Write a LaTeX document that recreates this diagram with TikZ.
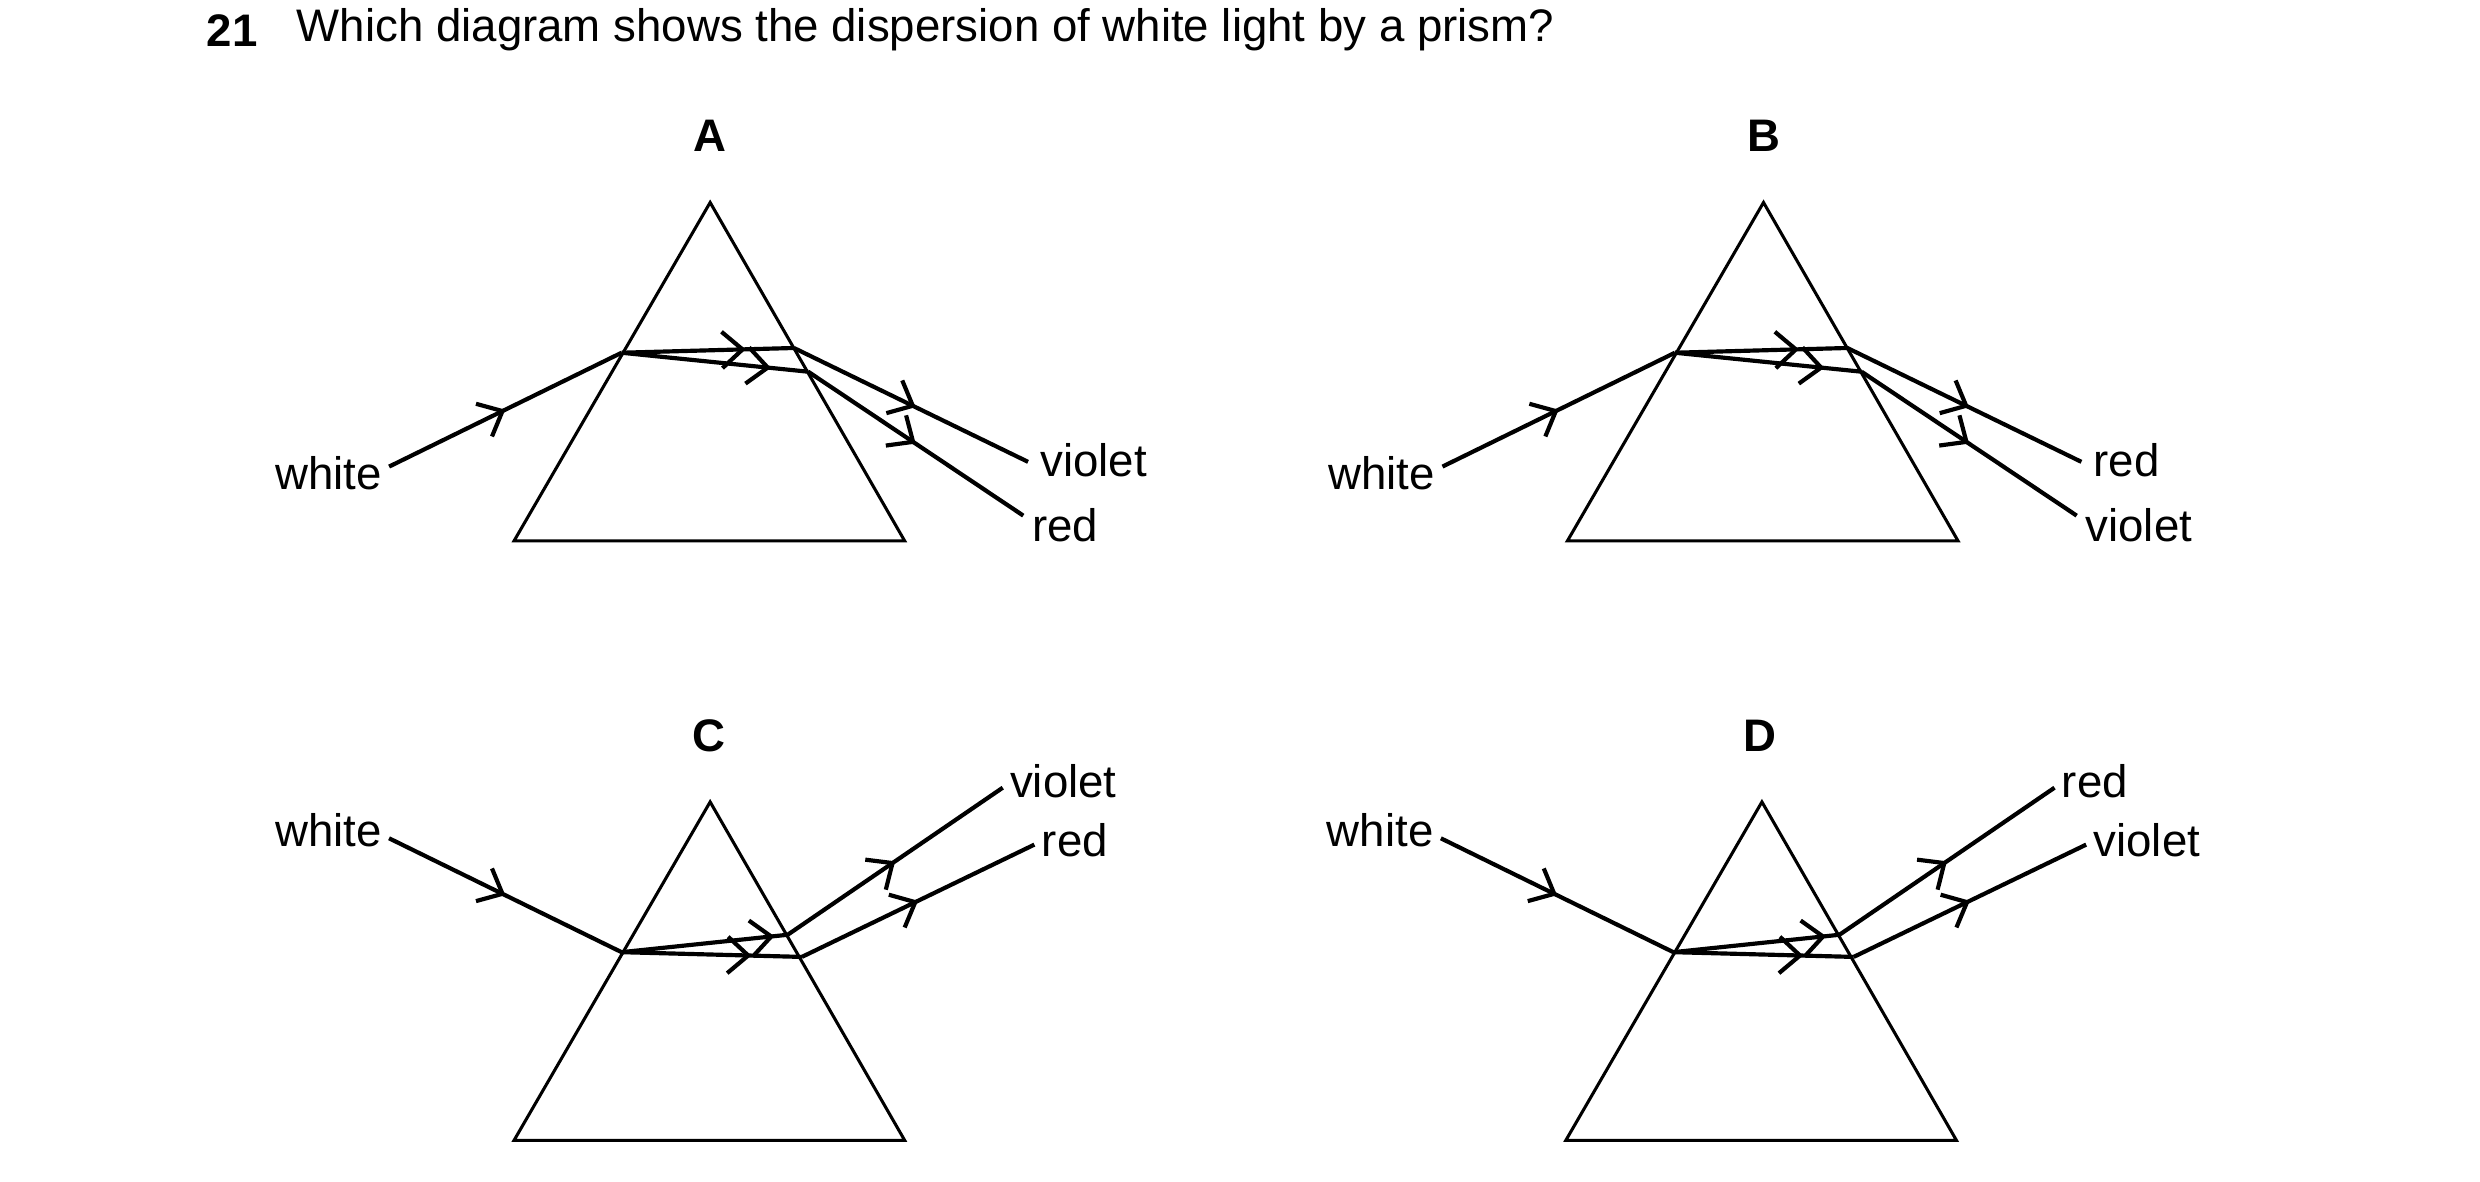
\documentclass[tikz,border=0pt]{standalone}
\usepackage{fontspec}
\setmainfont{Liberation Sans}
\usetikzlibrary{positioning, arrows.meta, decorations.markings}
\tikzset{
    ray/.style={line width=0.75pt},
    mid/.style={postaction={decorate},
        decoration={markings, mark=at position #1 with {\arrow{Straight Barb[length=1.3mm,width=2.3mm,line width=0.75pt]}}}},
    lbl/.style={font=\fontsize{8.2}{10}\selectfont, inner sep=0pt},
    ttl/.style={font=\fontsize{8.2}{10}\selectfont\bfseries, inner sep=0pt}
}
% prism with apex at (449,\ap)
\def\prism#1{%
    \draw[line width=0.55pt] (449,#1) -- (325,#1+214) -- (572,#1+214) -- cycle;
}
\begin{document}
\begin{tikzpicture}[x=0.01cm, y=-0.01cm]
    \useasboundingbox (0,0) rectangle (1568,747);

    \node[ttl, anchor=west] (num) at (130,19) {21};
    \node[lbl, anchor=west] (question) at (187,19) {Which diagram shows the dispersion of white light by a prism?};

    % upper row: A and B
    \foreach \dx/\nm/\upper/\lower in {0/A/violet/red, 666/B/red/violet}
    {
        \begin{scope}[xshift=\dx*0.01cm]
            \node[ttl] (title\nm) at (449,86) {\nm};
            \prism{128}
            \coordinate (in\nm) at (246,295);
            \coordinate (hit\nm) at (393,223);
            \coordinate (outU\nm) at (502,220);
            \coordinate (outL\nm) at (511,235);
            \coordinate (endU\nm) at (650,292);
            \coordinate (endL\nm) at (647,326);
            \draw[ray, mid=0.5] (in\nm) -- (hit\nm);
            \draw[ray, mid=0.72] (hit\nm) -- (outU\nm);
            \draw[ray, mid=0.8] (hit\nm) -- (outL\nm);
            \draw[ray, mid=0.52] (outU\nm) -- (endU\nm);
            \draw[ray, mid=0.5] (outL\nm) -- (endL\nm);
            \node[lbl, anchor=east] (white\nm) at (242,299) {white};
            \node[lbl, anchor=west] (labU\nm) at (657,291) {\upper};
            \node[lbl, anchor=west] (labL\nm) at (652,332) {\lower};
        \end{scope}
    }

    % lower row: C and D
    \foreach \dx/\nm/\upper/\lower in {0/C/violet/red, 665/D/red/violet}
    {
        \begin{scope}[xshift=\dx*0.01cm]
            \node[ttl] (title\nm) at (448,465) {\nm};
            \prism{507}
            \coordinate (in\nm) at (246,530);
            \coordinate (hit\nm) at (393,602);
            \coordinate (outU\nm) at (498,591);
            \coordinate (outL\nm) at (507,605);
            \coordinate (endU\nm) at (634,498);
            \coordinate (endL\nm) at (654,534);
            \draw[ray, mid=0.5] (in\nm) -- (hit\nm);
            \draw[ray, mid=0.92] (hit\nm) -- (outU\nm);
            \draw[ray, mid=0.72] (hit\nm) -- (outL\nm);
            \draw[ray, mid=0.5] (outU\nm) -- (endU\nm);
            \draw[ray, mid=0.5] (outL\nm) -- (endL\nm);
            \node[lbl, anchor=east] (white\nm) at (242,525) {white};
            \node[lbl, anchor=west] (labU\nm) at (638,494) {\upper};
            \node[lbl, anchor=west] (labL\nm) at (658,531) {\lower};
        \end{scope}
    }
\end{tikzpicture}
\end{document}
